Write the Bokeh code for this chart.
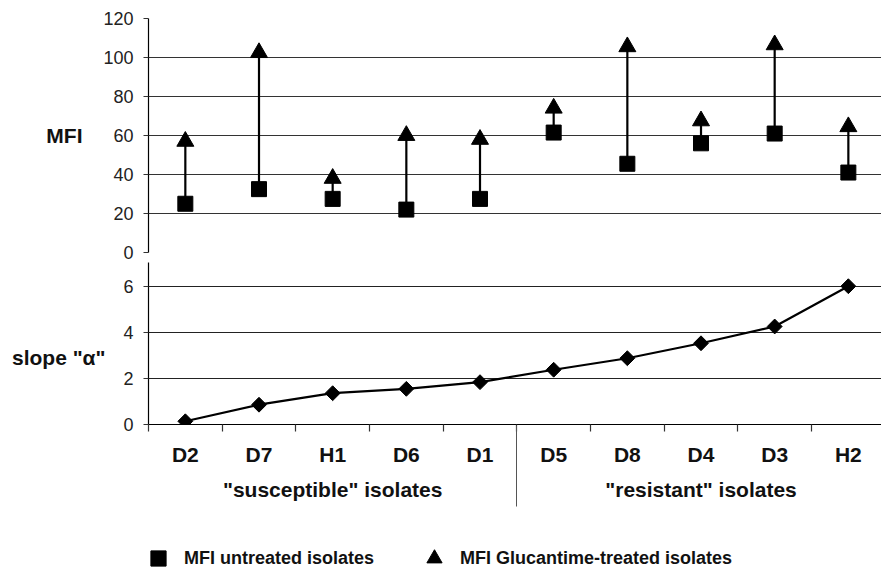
import numpy as np
from bokeh.plotting import figure
from bokeh.layouts import column
from bokeh.models import Range1d, FixedTicker, LinearAxis, Legend, LegendItem
from bokeh.embed import file_html
from bokeh.resources import INLINE

# ---------------- data ----------------
categories = ["D2", "D7", "H1", "D6", "D1", "D5", "D8", "D4", "D3", "H2"]
group_names = ['"susceptible" isolates', '"resistant" isolates']
group_sizes = [5, 5]
mfi_untreated = [25, 32.5, 27.5, 22, 27.5, 61.5, 45.5, 56, 61, 41]
mfi_treated = [57, 102.5, 38, 60, 58, 74, 105.5, 67.5, 106.5, 64.5]
slope_alpha = [0.14, 0.86, 1.36, 1.55, 1.84, 2.38, 2.88, 3.53, 4.26, 6.01]
mfi_ticks = [0, 20, 40, 60, 80, 100, 120]
slope_ticks = [0, 2, 4, 6]

FONT = "Liberation Sans"
W = 881
xs = np.arange(len(categories)) + 0.5
xr = Range1d(0, 9.95)


def style_yaxis(ax, tick_out, standoff):
    ax.axis_line_color = "black"
    ax.axis_line_width = 1.2
    ax.major_tick_out = tick_out
    ax.major_tick_in = 0
    ax.major_tick_line_color = "#333333"
    ax.major_tick_line_width = 1.2
    ax.minor_tick_line_color = None
    ax.major_label_standoff = standoff
    ax.major_label_text_font = FONT
    ax.major_label_text_font_size = "18px"
    ax.major_label_text_color = "#222222"
    ax.axis_label_orientation = "horizontal"
    ax.axis_label_text_font = FONT
    ax.axis_label_text_font_style = "bold"
    ax.axis_label_text_font_size = "21px"
    ax.axis_label_text_color = "#111111"


# ---------------- upper panel: MFI ----------------
p1 = figure(width=W, height=262, x_range=xr, y_range=Range1d(0, 120),
            output_backend="svg", toolbar_location=None, x_axis_location=None,
            min_border_left=148, min_border_right=0, min_border_top=18, min_border_bottom=10)
p1.outline_line_color = None
p1.xgrid.visible = False
p1.yaxis.ticker = FixedTicker(ticks=mfi_ticks)
p1.ygrid.ticker = FixedTicker(ticks=mfi_ticks)
p1.ygrid.grid_line_color = "#333333"
p1.ygrid.grid_line_width = 1.2
style_yaxis(p1.yaxis[0], 5, 10)
p1.yaxis[0].axis_label = "MFI"
p1.yaxis[0].axis_label_standoff = 18

p1.segment(x0=xs, y0=mfi_untreated, x1=xs, y1=mfi_treated, line_color="black", line_width=2.2)
p1.scatter(xs, mfi_untreated, marker="square", size=15, color="black")
p1.scatter(xs, mfi_treated, marker="triangle", size=17, color="black")

# ---------------- lower panel: slope ----------------
p2 = figure(width=W, height=258, x_range=xr, y_range=Range1d(0, 7.04),
            output_backend="svg", toolbar_location=None,
            min_border_left=148, min_border_right=0, min_border_top=0, min_border_bottom=96)
p2.outline_line_color = None
p2.xgrid.visible = False
p2.yaxis.ticker = FixedTicker(ticks=slope_ticks)
p2.ygrid.ticker = FixedTicker(ticks=slope_ticks)
p2.ygrid.grid_line_color = "#222222"
p2.ygrid.grid_line_width = 1.2
style_yaxis(p2.yaxis[0], 5, 10)
p2.yaxis[0].axis_label = '\nslope "α"'
p2.yaxis[0].axis_label_standoff = 15

axx = p2.xaxis[0]
axx.ticker = FixedTicker(ticks=list(xs), minor_ticks=list(range(len(categories) + 1)))
axx.major_label_overrides = {float(x): c for x, c in zip(xs, categories)}
axx.axis_line_color = "black"
axx.axis_line_width = 1.2
axx.major_tick_line_color = None
axx.major_tick_out = 0
axx.major_tick_in = 0
axx.minor_tick_out = 7
axx.minor_tick_in = 0
axx.minor_tick_line_color = "#333333"
axx.minor_tick_line_width = 1.2
axx.major_label_standoff = 11
axx.major_label_text_font = FONT
axx.major_label_text_font_style = "bold"
axx.major_label_text_font_size = "21px"
axx.major_label_text_color = "#111111"

# group axis (labels centred on each group, separator as a minor tick)
bounds = np.cumsum([0] + group_sizes)
centers = [(bounds[i] + bounds[i + 1]) / 2 for i in range(len(group_sizes))]
gax = LinearAxis(ticker=FixedTicker(ticks=centers, minor_ticks=[float(b) for b in bounds[1:-1]]))
gax.major_label_overrides = {float(c): n for c, n in zip(centers, group_names)}
gax.axis_line_color = None
gax.major_tick_line_color = None
gax.major_tick_out = 0
gax.major_tick_in = 0
gax.minor_tick_line_color = "#555555"
gax.minor_tick_line_width = 1
gax.minor_tick_in = 43
gax.minor_tick_out = 38
gax.major_label_standoff = -29
gax.major_label_text_font = FONT
gax.major_label_text_font_style = "bold"
gax.major_label_text_font_size = "21px"
gax.major_label_text_color = "#111111"
p2.add_layout(gax, "below")

p2.line(xs, slope_alpha, line_color="black", line_width=2.2)
p2.scatter(xs, slope_alpha, marker="square", angle=np.pi / 4, size=10.5, color="black")

# ---------------- legend strip ----------------
p3 = figure(width=W, height=48, x_range=Range1d(0, 1), y_range=Range1d(0, 1),
            output_backend="svg", toolbar_location=None,
            x_axis_location=None, y_axis_location=None, min_border=0)
p3.frame_align = False
p3.outline_line_color = None
p3.grid.visible = False
# legend proxies: one point each, lying outside this strip's visible range
l_sq = p3.scatter(x=[xs[0]], y=[mfi_untreated[0]], marker="square", color="black")
l_tr = p3.scatter(x=[xs[0]], y=[mfi_treated[0]], marker="triangle", color="black")
legend = Legend(items=[LegendItem(label="MFI untreated isolates", renderers=[l_sq]),
                       LegendItem(label="MFI Glucantime-treated isolates", renderers=[l_tr])],
                orientation="horizontal", location=(139, -9),
                glyph_width=38, glyph_height=38, label_standoff=7, spacing=41,
                label_text_font=FONT, label_text_font_style="bold", label_text_font_size="18px",
                label_text_color="#111111", padding=0, margin=0,
                border_line_color=None, background_fill_alpha=0)
p3.add_layout(legend)

layout = column(p1, p2, p3, spacing=0)
open("out.html", "w").write(file_html(layout, INLINE))
